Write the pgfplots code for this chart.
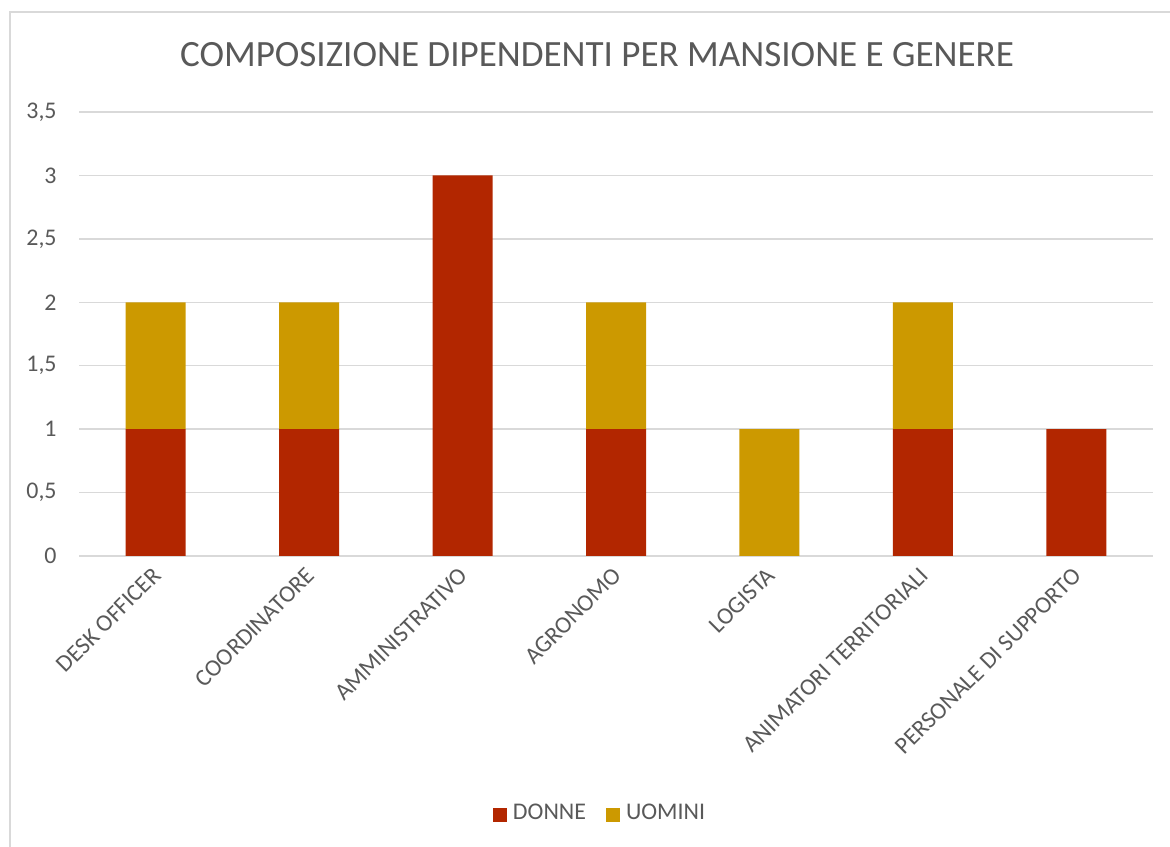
\documentclass[border=0pt]{standalone}
\usepackage{fontspec}
\setmainfont{Carlito}
\usepackage{pgfplots}
\pgfplotsset{compat=1.18}
\definecolor{donne}{HTML}{B22600}
\definecolor{uomini}{HTML}{CC9900}
\definecolor{txt}{HTML}{595959}
\definecolor{gridc}{HTML}{D9D9D9}
\begin{document}
\begin{tikzpicture}[x=1cm,y=1cm]
\useasboundingbox (0,0) rectangle (11.70,8.47);
\draw[gridc, line width=0.5pt] (0.10,0) -- (0.10,8.35) -- (11.70,8.35);
\node[txt, font=\fontsize{10.55}{12}\selectfont] at (5.97,7.92) {COMPOSIZIONE DIPENDENTI PER MANSIONE E GENERE};
\begin{axis}[
  at={(0.79cm,2.91cm)}, anchor=south west,
  scale only axis, width=10.74cm, height=4.44cm,
  ybar stacked, bar width=0.6cm,
  xmin=-0.5, xmax=6.5, ymin=0, ymax=3.5,
  ytick={0,0.5,1,1.5,2,2.5,3,3.5},
  xtick={0,1,2,3,4,5,6},
  xticklabels={DESK OFFICER,COORDINATORE,AMMINISTRATIVO,AGRONOMO,LOGISTA,ANIMATORI TERRITORIALI,PERSONALE DI SUPPORTO},
  /pgf/number format/assume math mode=true,
  /pgf/number format/use comma,
  ymajorgrids, grid style={gridc, line width=0.4pt},
  axis line style={draw=none},
  major tick length=0,
  tick label style={txt, font=\fontsize{6.8}{7.5}\selectfont},
  yticklabel style={xshift=-0.1cm},
  xticklabel style={rotate=45, anchor=east, yshift=-0.12cm, xshift=0.02cm},
  legend style={at={(0.487,-0.583)}, anchor=center, draw=none, legend columns=2,
    font=\fontsize{6.8}{7.5}\selectfont, text=txt,
    /tikz/every even column/.append style={column sep=0.14cm},
    nodes={inner sep=0.06cm}},
  legend image code/.code={\fill[#1] (0cm,-0.07cm) rectangle (0.14cm,0.07cm);},
]
\addplot[fill=donne, draw=none] coordinates {(0,1)(1,1)(2,3)(3,1)(4,0)(5,1)(6,1)};
\addplot[fill=uomini, draw=none] coordinates {(0,1)(1,1)(2,0)(3,1)(4,1)(5,1)(6,0)};
\legend{DONNE,UOMINI}
\end{axis}
\end{tikzpicture}
\end{document}
